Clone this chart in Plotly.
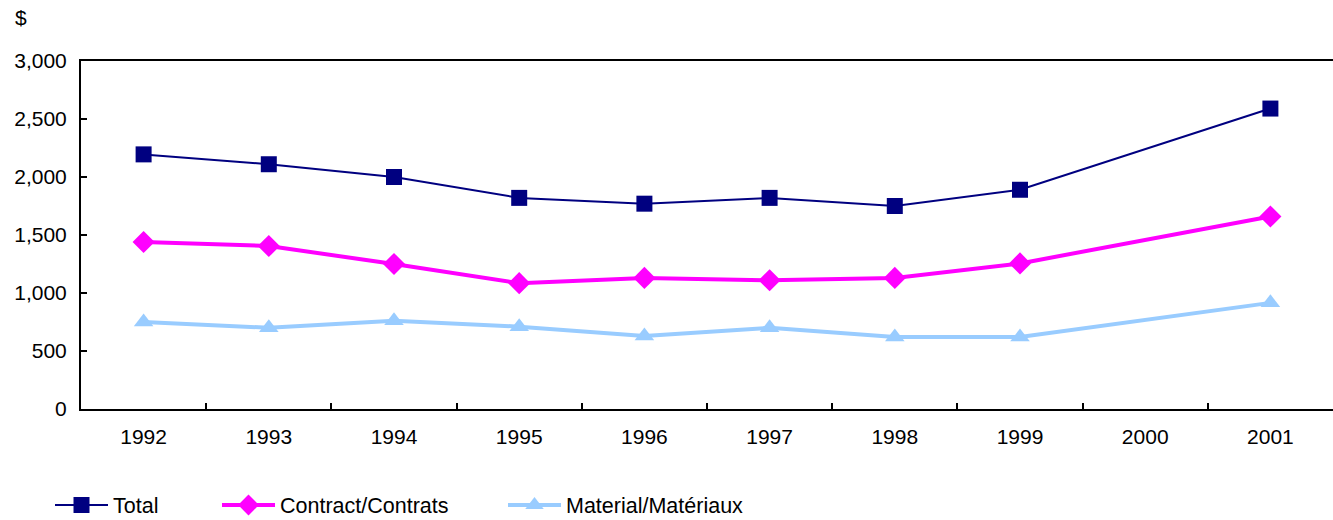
import plotly.graph_objects as go

years = ["1992", "1993", "1994", "1995", "1996", "1997", "1998", "1999", "2000", "2001"]
total = [2195, 2110, 2000, 1820, 1770, 1820, 1750, 1890, None, 2590]
contract = [1440, 1405, 1250, 1085, 1130, 1110, 1130, 1255, None, 1660]
material = [750, 700, 760, 710, 630, 700, 620, 620, None, 915]

names = ["Total", "Contract/Contrats", "Material/Matériaux"]
FONT = "Liberation Sans, Arial, sans-serif"
W, H = 1333, 520
L, R, T, B = 81, 0, 61, 111
PW = W - L - R
PH = H - T - B

def px_x(p):
    return (p - L) / PW

def px_y(p):
    return (H - B - p) / PH

fig = go.Figure()
fig.add_trace(go.Scatter(x=years, y=total, name=names[0], mode="lines+markers",
                         connectgaps=True, line=dict(color="#000080", width=2),
                         marker=dict(symbol="square", size=16, color="#000080"),
                         legend="legend"))
fig.add_trace(go.Scatter(x=years, y=contract, name=names[1], mode="lines+markers",
                         connectgaps=True, line=dict(color="#FF00FF", width=4),
                         marker=dict(symbol="diamond", size=17, color="#FF00FF"),
                         legend="legend2"))
fig.add_trace(go.Scatter(x=years, y=material, name=names[2], mode="lines+markers",
                         connectgaps=True, line=dict(color="#99CCFF", width=4),
                         marker=dict(symbol="triangle-up", size=17, color="#99CCFF"),
                         legend="legend3"))

leg_common = dict(orientation="h", yref="container", xref="container",
                  yanchor="middle", y=1 - 505 / H, xanchor="left",
                  font=dict(family=FONT, size=21.5, color="black"),
                  bgcolor="rgba(0,0,0,0)", itemwidth=53, tracegroupgap=0)

fig.update_layout(
    width=W, height=H,
    margin=dict(l=L, r=R, t=T, b=B, pad=0, autoexpand=False),
    paper_bgcolor="white", plot_bgcolor="white",
    font=dict(family=FONT, size=21, color="black"),
    showlegend=True,
    legend=dict(leg_common, x=50 / W),
    legend2=dict(leg_common, x=217 / W),
    legend3=dict(leg_common, x=503 / W),
    xaxis=dict(type="category", range=[-0.5, 9.5], showgrid=False, zeroline=False,
               showline=True, linecolor="black", linewidth=2, mirror=True,
               ticks="inside", tickson="boundaries", ticklen=6, tickwidth=2,
               tickcolor="black", ticklabelstandoff=8, automargin=False,
               tickfont=dict(family=FONT, size=21, color="black")),
    yaxis=dict(range=[0, 3000], tickvals=[0, 500, 1000, 1500, 2000, 2500, 3000],
               tickformat=",d", showgrid=False, zeroline=False,
               showline=True, linecolor="black", linewidth=2,
               ticks="inside", ticklen=6, tickwidth=2, tickcolor="black",
               ticklabelstandoff=8, automargin=False,
               tickfont=dict(family=FONT, size=21, color="black")),
    annotations=[dict(text="$", xref="paper", yref="paper", x=px_x(13), y=px_y(18),
                      xanchor="left", yanchor="middle", showarrow=False,
                      font=dict(family=FONT, size=21, color="black"))],
)

fig.write_html("out.html", config={"displayModeBar": False},
               post_script="document.body.style.margin='0';document.body.style.overflow='hidden';")
